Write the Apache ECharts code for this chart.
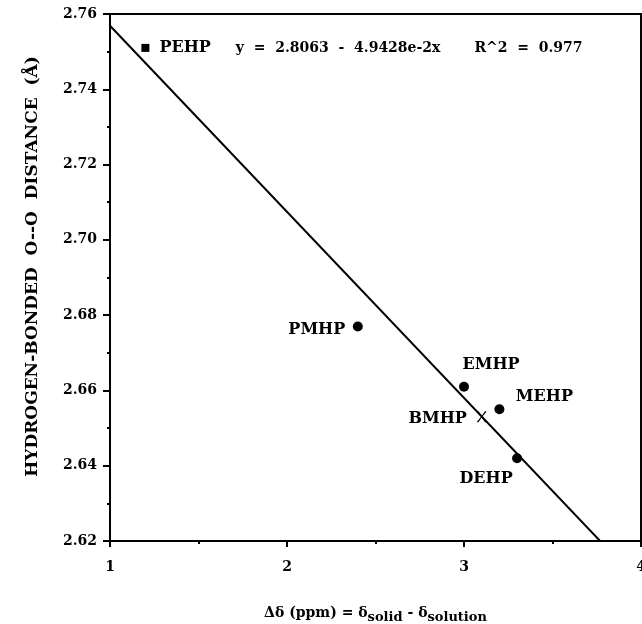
<!DOCTYPE html>
<html>
<head>
<meta charset="utf-8">
<script src="https://cdn.jsdelivr.net/npm/echarts@6/dist/echarts.min.js"></script>
<style>
  html, body { margin: 0; padding: 0; background: #fff; }
  #chart { width: 642px; height: 624px; }
</style>
</head>
<body>
<div id="chart"></div>
<script>
// Hydrogen-bonded O--O distance against the solid/solution chemical shift difference
const compounds = ['PMHP', 'EMHP', 'MEHP', 'BMHP', 'DEHP'];
const deltaShift = [2.4, 3.0, 3.2, 3.1, 3.3];
const ooDistance = [2.677, 2.661, 2.655, 2.653, 2.642];
const markerKind = ['circle', 'circle', 'circle', 'cross', 'circle'];
const labelOffsets = [[-41, 3], [27, -22], [45, -12], [-44, 2], [-31, 21]];

const refCompound = 'PEHP';
const refShift = 1.2;
const refDistance = 2.751;

// Least-squares fit reported on the chart
const fitIntercept = 2.8063;
const fitSlope = -4.9428e-2;
const fitRSquared = 0.977;
const fitXRange = [1, 4];

const xTicks = [1, 2, 3, 4];
const yTicks = [2.62, 2.64, 2.66, 2.68, 2.70, 2.72, 2.74, 2.76];

const FONT = 'DejaVu Serif';
const INK = '#000';
const crossPath = 'path://M0,0 L1.4,0 L5,4.3 L8.6,0 L10,0 L10,0.6 L5.7,5 L10,9.4 L10,10 L8.6,10 L5,5.7 L1.4,10 L0,10 L0,9.4 L4.3,5 L0,0.6 Z';

const pointData = compounds.map((name, i) => ({
  name: name,
  value: [deltaShift[i], ooDistance[i]],
  symbol: markerKind[i] === 'cross' ? crossPath : 'circle',
  symbolSize: markerKind[i] === 'cross' ? [9, 11] : 10,
  label: { offset: labelOffsets[i] }
}));

const fitLine = fitXRange.map(x => [x, fitIntercept + fitSlope * x]);

const chart = echarts.init(document.getElementById('chart'), null, { renderer: 'canvas' });

chart.setOption({
  animation: false,
  backgroundColor: '#fff',
  grid: {
    left: 110, right: 1, top: 14, bottom: 83,
    outerBoundsMode: 'none',
    containLabel: false,
    show: true, borderColor: '#000', borderWidth: 2, backgroundColor: 'transparent'
  },
  xAxis: {
    type: 'value',
    min: xTicks[0], max: xTicks[xTicks.length - 1], interval: 1,
    splitLine: { show: false },
    axisLine: { show: true, onZero: false, lineStyle: { color: '#000', width: 2 } },
    axisTick: { show: true, inside: false, length: 6, lineStyle: { color: '#000', width: 2 } },
    minorTick: { show: true, splitNumber: 2, length: 3, lineStyle: { color: '#000', width: 2 } },
    axisLabel: {
      color: INK, fontFamily: FONT, fontWeight: 'bold', fontSize: 14, margin: 19,
      formatter: v => String(v)
    },
    name: '{t|Δδ (ppm) = δ}{s|solid}{t| - δ}{s|solution}',
    nameLocation: 'middle',
    nameGap: 59,
    nameTextStyle: {
      rich: {
        t: { fontFamily: FONT, fontWeight: 'bold', fontSize: 14, color: INK, verticalAlign: 'bottom', lineHeight: 20 },
        s: { fontFamily: FONT, fontWeight: 'bold', fontSize: 13, color: INK, verticalAlign: 'bottom', lineHeight: 14, padding: [0, 0, -4, 0] }
      }
    }
  },
  yAxis: {
    type: 'value',
    min: yTicks[0], max: yTicks[yTicks.length - 1], interval: 0.02,
    splitLine: { show: false },
    axisLine: { show: true, onZero: false, lineStyle: { color: '#000', width: 2 } },
    axisTick: { show: true, inside: false, length: 7, lineStyle: { color: '#000', width: 2 } },
    minorTick: { show: true, splitNumber: 2, length: 3, lineStyle: { color: '#000', width: 2 } },
    axisLabel: {
      color: INK, fontFamily: FONT, fontWeight: 'bold', fontSize: 14, margin: 13,
      formatter: v => v.toFixed(2)
    },
    name: 'HYDROGEN-BONDED  O--O  DISTANCE  (Å)',
    nameLocation: 'middle',
    nameRotate: 90,
    nameGap: 69,
    nameTextStyle: { fontFamily: FONT, fontWeight: 'bold', fontSize: 17, color: INK, padding: [0, 0, 0, 22] }
  },
  series: [
    {
      name: 'fit',
      type: 'line',
      data: fitLine,
      symbol: 'none',
      clip: true,
      silent: true,
      lineStyle: { color: '#000', width: 2 },
      z: 2
    },
    {
      name: 'compounds',
      type: 'scatter',
      data: pointData,
      itemStyle: { color: '#000', opacity: 1 },
      label: {
        show: true,
        position: 'inside',
        align: 'center',
        verticalAlign: 'middle',
        formatter: p => p.name,
        fontFamily: FONT, fontWeight: 'bold', fontSize: 16, color: INK
      },
      z: 3
    },
    {
      name: 'reference',
      type: 'scatter',
      data: [{ name: refCompound, value: [refShift, refDistance] }],
      symbol: 'rect',
      symbolSize: 8,
      itemStyle: { color: '#000', opacity: 1 },
      label: {
        show: true,
        position: 'right',
        distance: 10,
        formatter: p => '{n|' + p.name + '}{e|y  =  ' + fitIntercept.toFixed(4) + '  -  ' +
          (-fitSlope / 1e-2).toFixed(4) + 'e-2x}{r|R^2  =  ' + fitRSquared.toFixed(3) + '}',
        rich: {
          n: { fontFamily: FONT, fontWeight: 'bold', fontSize: 16, color: INK },
          e: { fontFamily: FONT, fontWeight: 'bold', fontSize: 14, color: INK, padding: [0, 0, 0, 25] },
          r: { fontFamily: FONT, fontWeight: 'bold', fontSize: 14, color: INK, padding: [0, 0, 0, 34] }
        }
      },
      z: 3
    }
  ]
});
</script>
</body>
</html>
